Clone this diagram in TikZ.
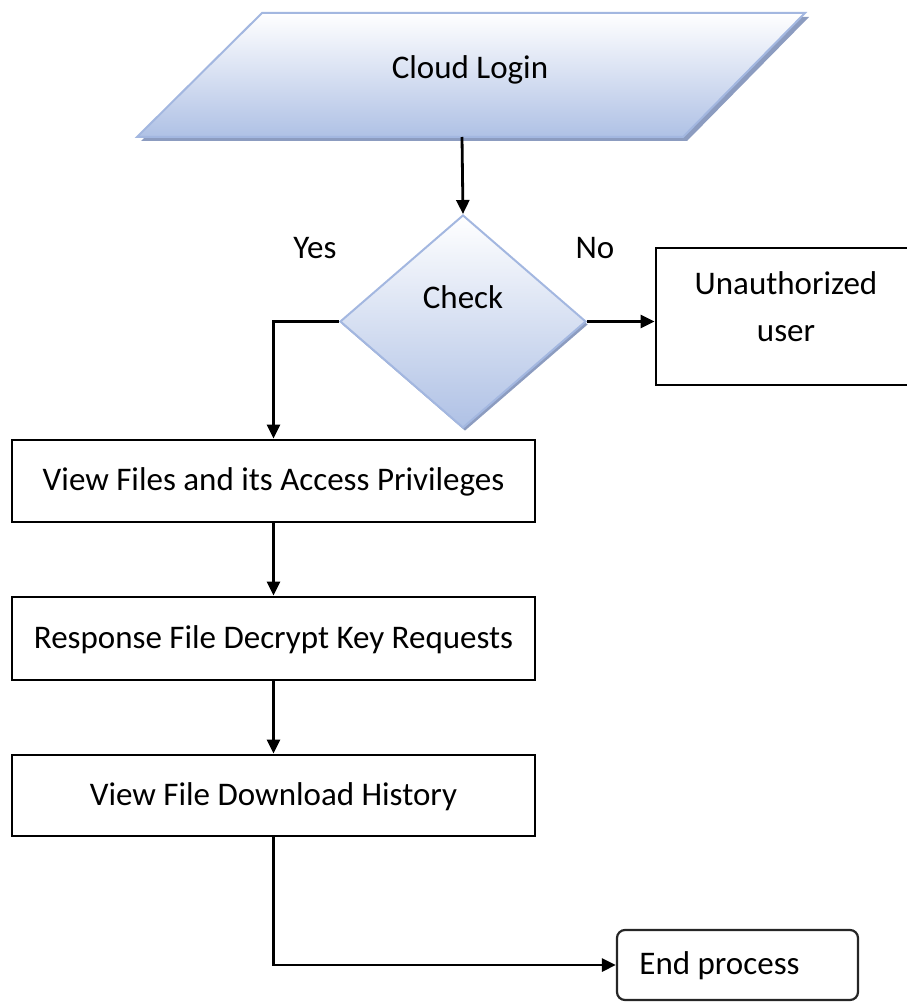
\documentclass[tikz,border=0pt]{standalone}
\usepackage{fontspec}
\setmainfont{Carlito}
\usetikzlibrary{arrows.meta,shapes.geometric,shadows}
\definecolor{bord}{HTML}{A3B7E0}
\definecolor{fillbot}{HTML}{AFC1E5}
\definecolor{shad}{HTML}{8C9CC0}
\begin{document}
\begin{tikzpicture}[x=1pt,y=-1pt,
  font=\fontsize{33}{47}\selectfont,
  box/.style={draw=black, line width=2.8pt, inner sep=0pt, text depth=0.35em},
  arr/.style={line width=2.8pt, -{Triangle[length=14pt,width=13pt]}},
  endbox/.style={draw=black!85, line width=2.2pt, rounded corners=8pt}]
\useasboundingbox (0,0) rectangle (906,1003);
% parallelogram
\fill[shad] (141,141)--(266,17)--(809,17)--(687,141)--cycle;
\shade[top color=white,bottom color=fillbot,draw=bord,line width=2pt]
  (137,137)--(262,13)--(805,13)--(683,137)--cycle;
\node (login) at (470,70) {Cloud Login};
\coordinate (loginB) at (462,137);
% diamond
\node[diamond, minimum width=246pt, minimum height=213pt, inner sep=0pt,
  draw=bord, line width=2pt, top color=white, bottom color=fillbot,
  drop shadow={shadow xshift=2pt,shadow yshift=-3pt,fill=shad,opacity=1}]
  (check) at (463,321.5) {};
\node (checkt) at (463,297) {Check};
\node (yes) at (315,248) {Yes};
\node (no) at (595,248) {No};
% boxes
\node[draw=black, line width=2.8pt, minimum width=260pt, minimum height=137pt] (unauth) at (786,316.5) {};
\node[align=center] (unautht) at (786,307) {Unauthorized\\user};
\node[box, minimum width=523pt, minimum height=82pt] (b1) at (273.5,481) {View Files and its Access Privileges};
\node[box, minimum width=523pt, minimum height=83pt] (b2) at (273.5,638.5) {Response File Decrypt Key Requests};
\node[box, minimum width=523pt, minimum height=81pt] (b3) at (273.5,795.5) {View File Download History};
\node[endbox, minimum width=241pt, minimum height=70pt] (endp) at (737.5,965) {};
\node[anchor=west] (endt) at ([xshift=20pt,yshift=-1pt]endp.west) {End process};
% connectors
\draw[arr] (loginB) -- (check.north);
\draw[arr] (check.west) -| (b1.north);
\draw[arr] (check.east) -- (check.east -| unauth.west);
\draw[arr] (b1.south) -- (b2.north);
\draw[arr] (b2.south) -- (b3.north);
\draw[arr] (b3.south) |- (endp.west);
\end{tikzpicture}
\end{document}
